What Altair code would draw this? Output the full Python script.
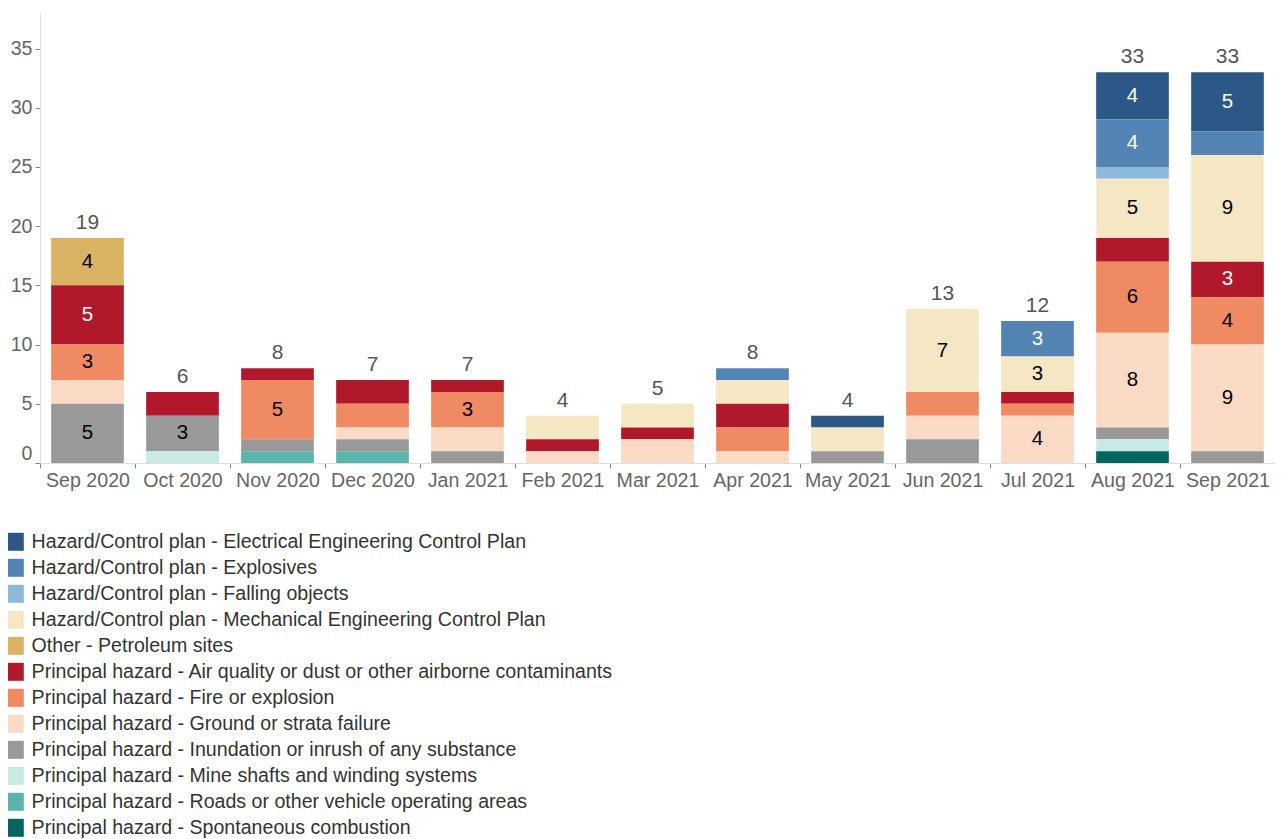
import altair as alt
import pandas as pd

months = ["Sep 2020", "Oct 2020", "Nov 2020", "Dec 2020", "Jan 2021", "Feb 2021",
          "Mar 2021", "Apr 2021", "May 2021", "Jun 2021", "Jul 2021", "Aug 2021", "Sep 2021"]

categories = [
    "Hazard/Control plan - Electrical Engineering Control Plan",
    "Hazard/Control plan - Explosives",
    "Hazard/Control plan - Falling objects",
    "Hazard/Control plan - Mechanical Engineering Control Plan",
    "Other - Petroleum sites",
    "Principal hazard - Air quality or dust or other airborne contaminants",
    "Principal hazard - Fire or explosion",
    "Principal hazard - Ground or strata failure",
    "Principal hazard - Inundation or inrush of any substance",
    "Principal hazard - Mine shafts and winding systems",
    "Principal hazard - Roads or other vehicle operating areas",
    "Principal hazard - Spontaneous combustion",
]

colors = ["#2b5886", "#5384b4", "#8cb9dc", "#f5e7c3", "#dab264", "#b2182b",
          "#ef8a62", "#fcdbc6", "#999999", "#c7eae4", "#5ab4ac", "#02665e"]

electrical = [0, 0, 0, 0, 0, 0, 0, 0, 1, 0, 0, 4, 5]
explosives = [0, 0, 0, 0, 0, 0, 0, 1, 0, 0, 3, 4, 2]
falling = [0, 0, 0, 0, 0, 0, 0, 0, 0, 0, 0, 1, 0]
mechanical = [0, 0, 0, 0, 0, 2, 2, 2, 2, 7, 3, 5, 9]
petroleum = [4, 0, 0, 0, 0, 0, 0, 0, 0, 0, 0, 0, 0]
air = [5, 2, 1, 2, 1, 1, 1, 2, 0, 0, 1, 2, 3]
fire = [3, 0, 5, 2, 3, 0, 0, 2, 0, 2, 1, 6, 4]
ground = [2, 0, 0, 1, 2, 1, 2, 1, 0, 2, 4, 8, 9]
inundation = [5, 3, 1, 1, 1, 0, 0, 0, 1, 2, 0, 1, 1]
mine_shafts = [0, 1, 0, 0, 0, 0, 0, 0, 0, 0, 0, 1, 0]
roads = [0, 0, 1, 1, 0, 0, 0, 0, 0, 0, 0, 0, 0]
spontaneous = [0, 0, 0, 0, 0, 0, 0, 0, 0, 0, 0, 1, 0]

series = [electrical, explosives, falling, mechanical, petroleum, air, fire,
          ground, inundation, mine_shafts, roads, spontaneous]
dark_cats = [categories[0], categories[1], categories[5]]

rows = []
for ci, (cat, vals) in enumerate(zip(categories, series)):
    for m, v in zip(months, vals):
        if v > 0:
            rows.append({"month": m, "category": cat, "idx": ci, "count": v})
df = pd.DataFrame(rows)

FONT = "Liberation Sans"
FS = 19.6

x_enc = alt.X("month:N", sort=months, title=None,
              scale=alt.Scale(paddingInner=0, paddingOuter=0),
              axis=alt.Axis(labelAngle=0, tickBand="extent", labelFontSize=FS,
                            labelColor="#666666", labelFont=FONT, domainColor="#dddddd",
                            tickColor="#888888", tickSize=5, labelPadding=3))
y_scale = alt.Scale(domain=[0, 38], nice=False)
y_axis = alt.Axis(values=[0, 5, 10, 15, 20, 25, 30, 35], grid=False, labelFlush=True,
                  labelFontSize=FS, labelColor="#666666", labelFont=FONT,
                  domainColor="#dddddd", tickColor="#888888", tickSize=5, labelPadding=3)

base = alt.Chart(df).transform_stack(
    stack="count", groupby=["month"], as_=["y0", "y1"],
    sort=[alt.SortField("idx", order="descending")]
).transform_calculate(mid="(datum.y0 + datum.y1) / 2")

bars = base.mark_bar(width=alt.RelativeBandSize(0.765)).encode(
    x=x_enc,
    y=alt.Y("y1:Q", scale=y_scale, axis=y_axis, title=None),
    y2="y0:Q",
    color=alt.Color("category:N", sort=categories,
                    scale=alt.Scale(domain=categories, range=colors),
                    legend=alt.Legend(title=None, orient="none", legendX=-35, legendY=519,
                                      direction="vertical", symbolType="square",
                                      symbolSize=324, symbolStrokeWidth=0,
                                      labelFontSize=FS, labelFont=FONT, labelColor="#333333",
                                      labelOffset=7, rowPadding=5.0, padding=0,
                                      labelLimit=1000)),
)

seg_text = base.transform_filter("datum.count >= 3").mark_text(
    fontSize=20.5, font=FONT, baseline="middle").encode(
    x=alt.X("month:N", sort=months),
    y=alt.Y("mid:Q"),
    text=alt.Text("count:Q"),
    color=alt.condition(alt.FieldOneOfPredicate(field="category", oneOf=dark_cats),
                        alt.value("white"), alt.value("black")),
)

totals = alt.Chart(df).transform_aggregate(
    total="sum(count)", groupby=["month"]
).mark_text(fontSize=21, font=FONT, baseline="bottom", dy=-5, color="#555555").encode(
    x=alt.X("month:N", sort=months),
    y=alt.Y("total:Q"),
    text=alt.Text("total:Q"),
)

chart = alt.layer(bars, seg_text, totals).properties(
    width=1235, height=450,
    autosize=alt.AutoSizeParams(type="none"),
    padding={"left": 32, "top": 5, "right": 0, "bottom": 376},
).configure_view(stroke=None)

chart.save("out.html", embed_options={"renderer": "svg", "actions": False})
